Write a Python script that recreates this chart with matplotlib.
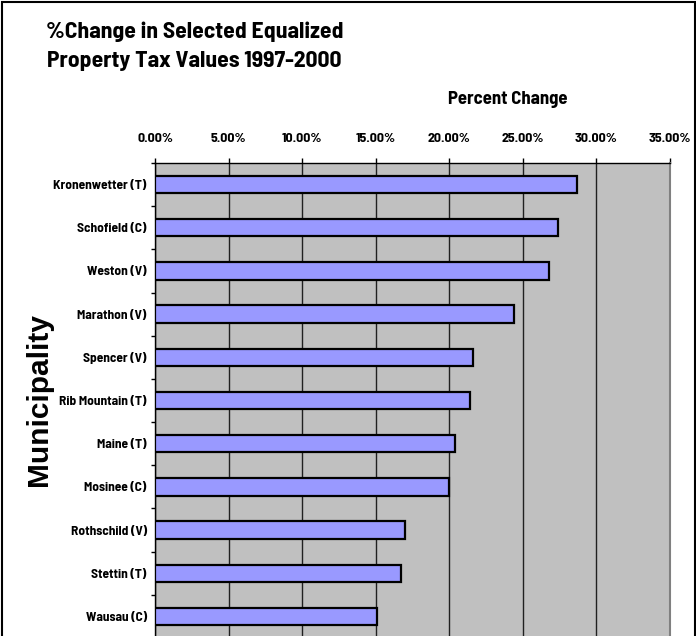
import numpy as np
import matplotlib.pyplot as plt
from matplotlib.patches import Rectangle
from matplotlib.ticker import FuncFormatter

municipalities = ["Kronenwetter (T)", "Schofield (C)", "Weston (V)", "Marathon (V)",
                  "Spencer (V)", "Rib Mountain (T)", "Maine (T)", "Mosinee (C)",
                  "Rothschild (V)", "Stettin (T)", "Wausau (C)"]
pct_change = [28.7, 27.4, 26.8, 24.4, 21.6, 21.4, 20.4, 20.0, 17.0, 16.7, 15.1]
x_ticks = [0, 5, 10, 15, 20, 25, 30, 35]

W, H = 696, 636
narrow = ["Barlow Semi Condensed", "DejaVu Sans"]
fig = plt.figure(figsize=(W / 100, H / 100), dpi=100)

# outer chart border
fig.patches.append(Rectangle((2 / W, -0.05), 692.5 / W, 1.05 - 2 / H, transform=fig.transFigure,
                             fill=False, edgecolor="black", linewidth=1.5))

# plot area in pixels: left 155, right 670, top 163, bottom 638
ax = fig.add_axes([155 / W, (H - 638) / H, 515 / W, 475 / H])
ax.set_facecolor("#C0C0C0")

y = np.arange(len(municipalities))
ax.barh(y, pct_change, height=0.4, color="#9999FF", edgecolor="black", linewidth=1.6, zorder=3)

ax.set_xlim(0, 35)
ax.set_ylim(len(municipalities) - 0.5, -0.5)
ax.set_xticks(x_ticks)
ax.xaxis.set_major_formatter(FuncFormatter(lambda v, p: f"{v:.2f}%"))
ax.xaxis.tick_top()
ax.tick_params(axis="x", direction="out", length=3.6, width=1, pad=10)
ax.grid(axis="x", color="#202020", linewidth=1, zorder=1)

ax.set_yticks(y)
ax.set_yticklabels(municipalities)
ax.set_yticks(np.arange(len(municipalities) + 1) - 0.5, minor=True)
ax.tick_params(axis="y", which="major", length=0, pad=6)
ax.tick_params(axis="y", which="minor", direction="out", length=3, width=1)

for lab in ax.get_xticklabels():
    lab.set_fontfamily(narrow)
    lab.set_fontweight("bold")
    lab.set_fontsize(10)
for lab in ax.get_yticklabels():
    lab.set_fontfamily(narrow)
    lab.set_fontweight("bold")
    lab.set_fontsize(9.6)

for side in ["top", "left"]:
    ax.spines[side].set_color("black")
    ax.spines[side].set_linewidth(1)
ax.spines["right"].set_color("#808080")
ax.spines["right"].set_linewidth(1.5)
ax.spines["bottom"].set_visible(False)

fig.text(195 / W, 1 - 32 / H, "%Change in Selected Equalized", family=narrow, fontweight="bold",
         fontsize=17, ha="center", va="center")
fig.text(194 / W, 1 - 61 / H, "Property Tax Values 1997-2000", family=narrow, fontweight="bold",
         fontsize=17, ha="center", va="center")
fig.text(508 / W, 1 - 100 / H, "Percent Change", family=narrow, fontweight="bold",
         fontsize=13.5, ha="center", va="center")
fig.text(39 / W, 1 - 400 / H, "Municipality", family=["Liberation Sans", "DejaVu Sans"],
         fontweight="bold", fontsize=21.5, rotation=90, ha="center", va="center")

fig.savefig("out.png", dpi=100, facecolor="white")
